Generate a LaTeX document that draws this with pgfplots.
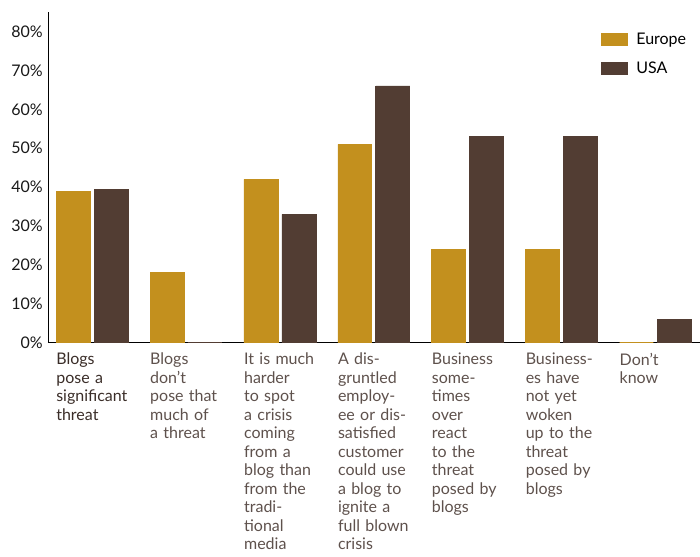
\documentclass[border=0pt]{standalone}
\usepackage{pgfplots}
\pgfplotsset{compat=1.18}
\usepackage{fontspec}
\setmainfont{Lato}
\definecolor{eu}{HTML}{C3901E}
\definecolor{us}{HTML}{523D33}
\definecolor{lab}{HTML}{5E514C}
\definecolor{labd}{HTML}{3A2D28}
\begin{document}
\begin{tikzpicture}
\begin{axis}[
  scale only axis,
  width=652pt, height=331pt,
  ybar=4pt, bar width=34pt,
  xmin=-0.47, xmax=6.47,
  ymin=0, ymax=85,
  axis x line*=bottom, axis y line*=left,
  axis line style={line width=0.8pt, black},
  xtick={0,...,6}, major tick length=0pt,
  ytick={0,10,...,80},
  yticklabels={0\%,10\%,20\%,30\%,40\%,50\%,60\%,70\%,80\%},
  yticklabel style={font=\fontsize{16}{18}\selectfont, text=black!90, inner sep=0pt, xshift=-5pt},
  xticklabels={
    {\color{labd}Blogs\\pose a\\significant\\threat},
    {Blogs\\don’t\\pose that\\much of\\a threat},
    {It is much\\harder\\to spot\\a crisis\\coming\\from a\\blog than\\from the\\tradi-\\tional\\media},
    {A dis-\\gruntled\\employ-\\ee or dis-\\satisfied\\customer\\could use\\a blog to\\ignite a\\full blown\\crisis},
    {Business\\some-\\times\\over\\react\\to the\\threat\\posed by\\blogs},
    {Business-\\es have\\not yet\\woken\\up to the\\threat\\posed by\\blogs},
    {Don’t\\know}},
  xticklabel style={anchor=north west, xshift=-36pt, yshift=-10pt, inner sep=0pt,
    text width=78pt, align=left, text=lab, font=\fontsize{16}{18.5}\selectfont},
  legend style={at={(0.848,0.943)}, anchor=north west, draw=none, fill=none,
    inner sep=0pt, row sep=12pt, font=\fontsize{16}{18}\selectfont},
  legend cell align=left,
  legend image code/.code={\fill[#1] (0pt,-6pt) rectangle (26pt,6pt); \path (33pt,0pt);},
  clip=false,
]
\addplot[fill=eu, draw=eu, line width=0.6pt] coordinates {(0,39) (1,18) (2,42) (3,51) (4,24) (5,24) (6,0)};
\addplot[fill=us, draw=us, line width=0.6pt] coordinates {(0,39.5) (1,0) (2,33) (3,66) (4,53) (5,53) (6,6)};
\legend{Europe,USA}
\end{axis}
\path ([xshift=-48pt,yshift=-214pt]current axis.south west) rectangle ([yshift=12pt]current axis.north east);
\end{tikzpicture}
\end{document}
